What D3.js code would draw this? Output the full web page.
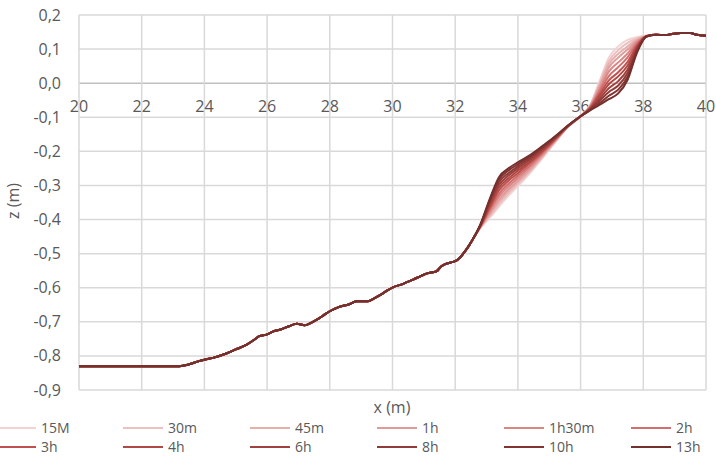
<!DOCTYPE html>
<html>
<head>
<meta charset="utf-8">
<script src="https://cdn.jsdelivr.net/npm/d3@7"></script>
<style>
  body { margin: 0; background: #fff; }
  svg text { font-family: "Open Sans", sans-serif; fill: #595959; }
</style>
</head>
<body>
<div id="chart"></div>
<script>
// series names, oldest first
var seriesNames = ["15M", "30m", "45m", "1h", "1h30m", "2h", "3h", "4h", "6h", "8h", "10h", "13h"];
var seriesColors = ["#f2d3d2", "#ecc1c0", "#e6afae", "#e09c9b", "#d98685", "#d06f6d",
                    "#c0504d", "#b04845", "#a0413e", "#913b38", "#823431", "#73302d"];

// profile shared by all series (seaward part)
var lowX = [20, 23.2, 23.5, 23.8, 24.0, 24.3, 24.7, 25.0, 25.35, 25.6, 25.75, 26.0, 26.2, 26.45,
            26.7, 26.95, 27.2, 27.4, 27.6, 27.8, 28.0, 28.3, 28.6, 28.86, 29.2, 29.4, 29.6, 29.8,
            30.03, 30.3, 30.66, 30.9, 31.1, 31.4, 31.55, 31.7, 31.85, 32.0, 32.15, 32.3, 32.45, 32.6];
var lowZ = [-0.83, -0.83, -0.825, -0.816, -0.811, -0.805, -0.793, -0.781, -0.767, -0.752, -0.742,
            -0.737, -0.728, -0.722, -0.713, -0.706, -0.71, -0.703, -0.693, -0.681, -0.669, -0.656,
            -0.649, -0.64, -0.64, -0.632, -0.622, -0.61, -0.598, -0.59, -0.576, -0.566, -0.558,
            -0.552, -0.538, -0.53, -0.526, -0.522, -0.512, -0.495, -0.475, -0.452];

// profile shared by all series (crest)
var topX = [38.4, 38.7, 38.96, 39.2, 39.5, 39.7, 40];
var topZ = [0.142, 0.141, 0.145, 0.147, 0.147, 0.142, 0.139];

// part of the profile that changes with time
var midX = [32.8, 33.1, 33.4, 33.7, 34.0, 34.4, 34.8, 35.2, 35.6, 36.0, 36.3, 36.6, 36.9, 37.2, 37.5, 37.8, 38.1];
var z15M   = [-0.425, -0.395, -0.362, -0.330, -0.302, -0.262, -0.218, -0.172, -0.128, -0.097, -0.065,  0.005,  0.075,  0.108, 0.127, 0.135, 0.139];
var z30m   = [-0.424, -0.391, -0.355, -0.324, -0.296, -0.258, -0.215, -0.171, -0.128, -0.097, -0.066, -0.001,  0.065,  0.097, 0.118, 0.131, 0.139];
var z45m   = [-0.423, -0.386, -0.348, -0.317, -0.291, -0.254, -0.212, -0.169, -0.127, -0.097, -0.067, -0.006,  0.056,  0.086, 0.108, 0.128, 0.139];
var z1h    = [-0.423, -0.382, -0.341, -0.311, -0.285, -0.250, -0.210, -0.168, -0.127, -0.097, -0.069, -0.012,  0.046,  0.075, 0.099, 0.124, 0.138];
var z1h30m = [-0.422, -0.376, -0.332, -0.303, -0.278, -0.244, -0.206, -0.166, -0.127, -0.097, -0.070, -0.019,  0.034,  0.061, 0.087, 0.120, 0.138];
var z2h    = [-0.421, -0.371, -0.324, -0.295, -0.271, -0.239, -0.203, -0.165, -0.126, -0.097, -0.072, -0.025,  0.021,  0.047, 0.076, 0.115, 0.138];
var z3h    = [-0.420, -0.365, -0.314, -0.286, -0.264, -0.233, -0.199, -0.163, -0.126, -0.097, -0.073, -0.033,  0.008,  0.032, 0.063, 0.110, 0.138];
var z4h    = [-0.419, -0.360, -0.306, -0.279, -0.257, -0.229, -0.196, -0.161, -0.125, -0.097, -0.075, -0.039, -0.003,  0.020, 0.052, 0.106, 0.138];
var z6h    = [-0.418, -0.354, -0.298, -0.271, -0.250, -0.224, -0.192, -0.159, -0.125, -0.097, -0.076, -0.046, -0.015,  0.006, 0.040, 0.102, 0.138];
var z8h    = [-0.417, -0.349, -0.290, -0.264, -0.244, -0.219, -0.189, -0.158, -0.125, -0.097, -0.077, -0.052, -0.026, -0.007, 0.030, 0.098, 0.137];
var z10h   = [-0.416, -0.344, -0.282, -0.256, -0.238, -0.214, -0.186, -0.156, -0.124, -0.097, -0.079, -0.059, -0.037, -0.019, 0.019, 0.094, 0.137];
var z13h   = [-0.415, -0.340, -0.275, -0.250, -0.232, -0.210, -0.183, -0.155, -0.124, -0.097, -0.080, -0.064, -0.047, -0.030, 0.010, 0.090, 0.137];
var midZ = [z15M, z30m, z45m, z1h, z1h30m, z2h, z3h, z4h, z6h, z8h, z10h, z13h];

// tick labels
var xTicks = [20, 22, 24, 26, 28, 30, 32, 34, 36, 38, 40];
var yTicks = [-0.9, -0.8, -0.7, -0.6, -0.5, -0.4, -0.3, -0.2, -0.1, 0, 0.1, 0.2];

var svgWidth = 716;
var svgHeight = 457;

var svg = d3.select("#chart")
    .append("svg")
    .attr("width", svgWidth)
    .attr("height", svgHeight);

var xScale = d3.scaleLinear().domain([20, 40]).range([79, 706]);
var yScale = d3.scaleLinear().domain([-0.9, 0.2]).range([390, 15]);

var fmt = d3.formatLocale({decimal: ",", thousands: ".", grouping: [3], currency: ["", ""], minus: "-"}).format(".1f");

// gridlines
svg.append("g")
    .selectAll("line")
    .data(yTicks)
    .enter()
    .append("line")
    .attr("x1", xScale(20))
    .attr("x2", xScale(40))
    .attr("y1", d => yScale(d))
    .attr("y2", d => yScale(d))
    .attr("stroke", d => d === 0 ? "#bfbfbf" : "#d9d9d9")
    .attr("stroke-width", 1.5);

svg.append("g")
    .selectAll("line")
    .data(xTicks)
    .enter()
    .append("line")
    .attr("x1", d => xScale(d))
    .attr("x2", d => xScale(d))
    .attr("y1", yScale(0.2))
    .attr("y2", yScale(-0.9))
    .attr("stroke", "#d9d9d9")
    .attr("stroke-width", 1.5);

// y tick labels
svg.append("g")
    .selectAll("text")
    .data(yTicks)
    .enter()
    .append("text")
    .attr("x", 61)
    .attr("y", d => yScale(d) + 5.5)
    .attr("text-anchor", "end")
    .style("font-size", "16px")
    .text(d => fmt(d));

// x tick labels sit under the z = 0 line
svg.append("g")
    .selectAll("text")
    .data(xTicks)
    .enter()
    .append("text")
    .attr("x", d => xScale(d))
    .attr("y", yScale(0) + 29)
    .attr("text-anchor", "middle")
    .style("font-size", "16px")
    .text(d => d);

// axis titles
svg.append("text")
    .attr("x", 392)
    .attr("y", 413)
    .attr("text-anchor", "middle")
    .style("font-size", "16px")
    .text("x (m)");

svg.append("text")
    .attr("transform", "translate(19, 201) rotate(-90)")
    .attr("text-anchor", "middle")
    .style("font-size", "16px")
    .text("z (m)");

// profiles
var line = d3.line()
    .x(d => xScale(d[0]))
    .y(d => yScale(d[1]))
    .curve(d3.curveMonotoneX);

var profiles = seriesNames.map(function(name, i) {
    var pts = lowX.map((x, j) => [x, lowZ[j]])
        .concat(midX.map((x, j) => [x, midZ[i][j]]))
        .concat(topX.map((x, j) => [x, topZ[j]]));
    return {name: name, color: seriesColors[i], points: pts};
});

svg.append("g")
    .selectAll("path")
    .data(profiles)
    .enter()
    .append("path")
    .attr("d", d => line(d.points))
    .attr("fill", "none")
    .attr("stroke", d => d.color)
    .attr("stroke-width", 2)
    .attr("stroke-linejoin", "round");

// legend, two rows of six
var legend = svg.append("g")
    .selectAll("g")
    .data(profiles)
    .enter()
    .append("g")
    .attr("transform", (d, i) => `translate(${-4 + 127 * (i % 6)}, ${i < 6 ? 428 : 447})`);

legend.append("line")
    .attr("x1", 0)
    .attr("x2", 40)
    .attr("stroke", d => d.color)
    .attr("stroke-width", 2);

legend.append("text")
    .attr("x", 45)
    .attr("y", 5)
    .style("font-size", "14px")
    .text(d => d.name);
</script>
</body>
</html>
